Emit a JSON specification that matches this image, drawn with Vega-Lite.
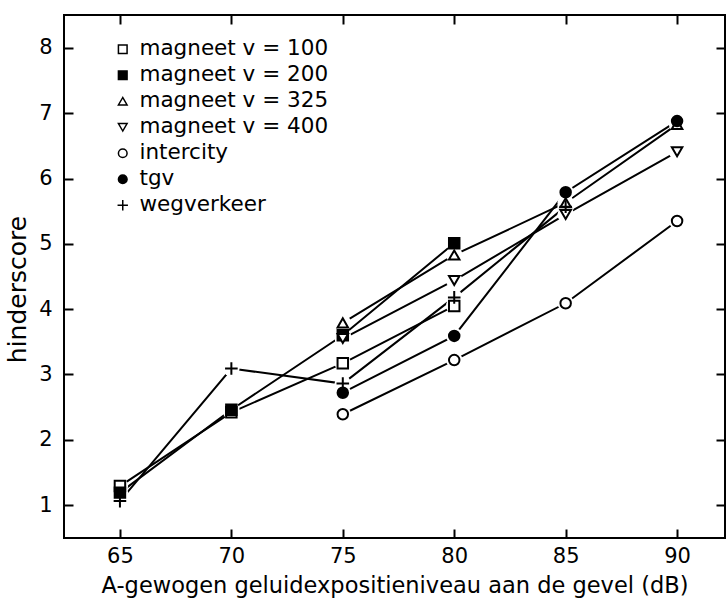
{
  "$schema": "https://vega.github.io/schema/vega-lite/v6.json",
  "width": 661,
  "height": 523,
  "autosize": {"type": "none"},
  "padding": {"left": 64, "top": 15, "right": 1, "bottom": 62},
  "background": "white",
  "config": {
    "view": {"stroke": "black", "strokeWidth": 2},
    "font": "DejaVu Sans",
    "axis": {
      "domain": false,
      "grid": false,
      "tickColor": "black",
      "tickWidth": 2,
      "tickSize": -9,
      "labelColor": "black",
      "titleColor": "black",
      "labelFont": "DejaVu Sans",
      "titleFont": "DejaVu Sans",
      "labelFontSize": 21,
      "titleFontSize": 22.5,
      "titleFontWeight": "normal"
    },
    "legend": {
      "labelFont": "DejaVu Sans",
      "labelFontSize": 21.5,
      "labelColor": "black",
      "labelLimit": 400
    }
  },
  "data": {
    "values": [
      {"series": "magneet v = 100", "dB": 65, "score": 1.29},
      {"series": "magneet v = 100", "dB": 70, "score": 2.42},
      {"series": "magneet v = 100", "dB": 75, "score": 3.17},
      {"series": "magneet v = 100", "dB": 80, "score": 4.05},
      {"series": "magneet v = 200", "dB": 65, "score": 1.19},
      {"series": "magneet v = 200", "dB": 70, "score": 2.46},
      {"series": "magneet v = 200", "dB": 75, "score": 3.6},
      {"series": "magneet v = 200", "dB": 80, "score": 5.01},
      {"series": "magneet v = 325", "dB": 75, "score": 3.79},
      {"series": "magneet v = 325", "dB": 80, "score": 4.83},
      {"series": "magneet v = 325", "dB": 85, "score": 5.63},
      {"series": "magneet v = 325", "dB": 90, "score": 6.83},
      {"series": "magneet v = 400", "dB": 75, "score": 3.55},
      {"series": "magneet v = 400", "dB": 80, "score": 4.44},
      {"series": "magneet v = 400", "dB": 85, "score": 5.45},
      {"series": "magneet v = 400", "dB": 90, "score": 6.41},
      {"series": "intercity", "dB": 75, "score": 2.39},
      {"series": "intercity", "dB": 80, "score": 3.22},
      {"series": "intercity", "dB": 85, "score": 4.09},
      {"series": "intercity", "dB": 90, "score": 5.35},
      {"series": "tgv", "dB": 75, "score": 2.72},
      {"series": "tgv", "dB": 80, "score": 3.59},
      {"series": "tgv", "dB": 85, "score": 5.79},
      {"series": "tgv", "dB": 90, "score": 6.88},
      {"series": "wegverkeer", "dB": 65, "score": 1.06},
      {"series": "wegverkeer", "dB": 70, "score": 3.09},
      {"series": "wegverkeer", "dB": 75, "score": 2.86},
      {"series": "wegverkeer", "dB": 80, "score": 4.18},
      {"series": "wegverkeer", "dB": 85, "score": 5.57}
    ]
  },
  "layer": [
    {
      "mark": {"type": "line", "color": "black", "strokeWidth": 2},
      "encoding": {
        "x": {
          "field": "dB",
          "type": "quantitative",
          "scale": {"domain": [62.49, 92.15], "nice": false, "zero": false},
          "axis": {
            "values": [65, 70, 75, 80, 85, 90],
            "title": "A-gewogen geluidexpositieniveau aan de gevel (dB)",
            "labelPadding": 16,
            "titlePadding": 8
          }
        },
        "y": {
          "field": "score",
          "type": "quantitative",
          "scale": {"domain": [0.495, 8.505], "nice": false, "zero": false},
          "axis": {
            "values": [1, 2, 3, 4, 5, 6, 7, 8],
            "title": "hinderscore",
            "titleFontSize": 25,
            "labelPadding": 21,
            "titleX": -47,
            "titleY": 274,
            "titleBaseline": "middle",
            "titleAngle": -90
          }
        },
        "detail": {"field": "series"}
      }
    },
    {
      "mark": {"type": "point", "shape": "circle", "filled": true, "color": "white", "opacity": 1, "size": 270},
      "encoding": {
        "x": {"field": "dB", "type": "quantitative", "axis": null},
        "y": {"field": "score", "type": "quantitative", "axis": null}
      }
    },
    {
      "mark": {"type": "point", "filled": true, "stroke": "black", "strokeWidth": 2, "opacity": 1, "size": 110},
      "encoding": {
        "x": {"field": "dB", "type": "quantitative", "axis": null},
        "y": {"field": "score", "type": "quantitative", "axis": null},
        "shape": {
          "field": "series",
          "type": "nominal",
          "scale": {
            "domain": ["magneet v = 100", "magneet v = 200", "magneet v = 325", "magneet v = 400", "intercity", "tgv", "wegverkeer"],
            "range": ["square", "square", "triangle-up", "triangle-down", "circle", "circle", "M-1.2,0H1.2M0,-1.2V1.2"]
          },
          "legend": {
            "title": null,
            "orient": "none",
            "legendX": 48,
            "legendY": 23.5,
            "padding": 0,
            "symbolSize": 75,
            "symbolOpacity": 1,
            "labelOffset": 6,
            "rowPadding": 3,
            "encode": {"symbols": {"update": {"stroke": {"value": "black"}, "strokeWidth": {"value": 1.8}}}}
          }
        },
        "fill": {
          "field": "series",
          "type": "nominal",
          "scale": {
            "domain": ["magneet v = 100", "magneet v = 200", "magneet v = 325", "magneet v = 400", "intercity", "tgv", "wegverkeer"],
            "range": ["white", "black", "white", "white", "white", "black", "black"]
          },
          "legend": {
            "title": null,
            "orient": "none",
            "legendX": 48,
            "legendY": 23.5,
            "padding": 0,
            "symbolSize": 75,
            "symbolOpacity": 1,
            "labelOffset": 6,
            "rowPadding": 3,
            "encode": {"symbols": {"update": {"stroke": {"value": "black"}, "strokeWidth": {"value": 1.8}}}}
          }
        }
      }
    },
    {
      "mark": {"type": "point", "opacity": 0},
      "encoding": {
        "x": {
          "field": "dB",
          "type": "quantitative",
          "axis": {"orient": "top", "values": [65, 70, 75, 80, 85, 90], "labels": false, "title": null}
        },
        "y": {
          "field": "score",
          "type": "quantitative",
          "axis": {"orient": "right", "values": [1, 2, 3, 4, 5, 6, 7, 8], "labels": false, "title": null}
        }
      }
    }
  ],
  "resolve": {"axis": {"x": "independent", "y": "independent"}}
}
